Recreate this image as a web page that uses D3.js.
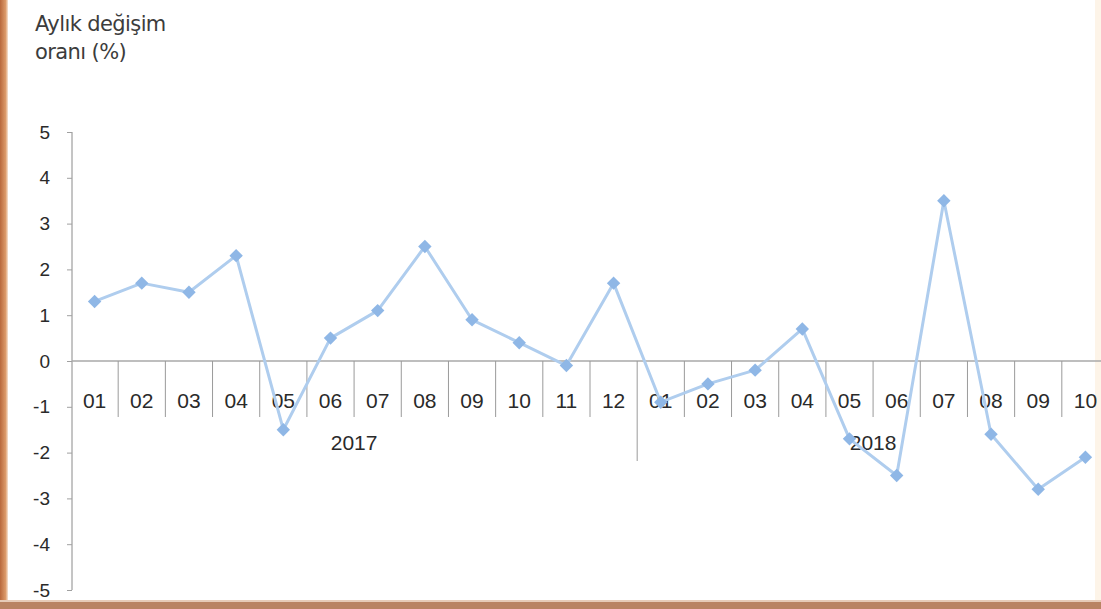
<!DOCTYPE html>
<html>
<head>
<meta charset="utf-8">
<script src="https://cdn.jsdelivr.net/npm/d3@7"></script>
<style>
  body { margin: 0; background: #fff; overflow: hidden; }
  svg { display: block; }
</style>
</head>
<body>
<script>
var years = ["2017", "2018"];
var months2017 = ["01", "02", "03", "04", "05", "06", "07", "08", "09", "10", "11", "12"];
var months2018 = ["01", "02", "03", "04", "05", "06", "07", "08", "09", "10"];
var values2017 = [1.3, 1.7, 1.5, 2.3, -1.5, 0.5, 1.1, 2.5, 0.9, 0.4, -0.1, 1.7];
var values2018 = [-0.9, -0.5, -0.2, 0.7, -1.7, -2.5, 3.5, -1.6, -2.8, -2.1];
var yTicks = [5, 4, 3, 2, 1, 0, -1, -2, -3, -4, -5];

var main = function() {
  var width = 1101, height = 609;

  // flatten the two years into one category list
  var data = [];
  months2017.forEach(function(m, i) { data.push({year: years[0], month: m, value: values2017[i]}); });
  months2018.forEach(function(m, i) { data.push({year: years[1], month: m, value: values2018[i]}); });
  data.forEach(function(d) { d.key = d.year + "-" + d.month; });

  var svg = d3.select("body")
    .append("svg")
    .attr("width", width)
    .attr("height", height);

  // photo frame: orange strip left, brown strip bottom, faint cream right
  var gl = svg.append("defs").append("linearGradient").attr("id", "lg");
  gl.append("stop").attr("offset", "0%").attr("stop-color", "#b8683c");
  gl.append("stop").attr("offset", "70%").attr("stop-color", "#dc9a6a");
  gl.append("stop").attr("offset", "100%").attr("stop-color", "#f7e4d4");
  svg.append("rect").attr("x", 0).attr("y", 0).attr("width", 8).attr("height", height).attr("fill", "url(#lg)");
  svg.append("rect").attr("x", width - 6).attr("y", 0).attr("width", 6).attr("height", height).attr("fill", "#fdf4e8");
  svg.append("rect").attr("x", 0).attr("y", 602).attr("width", width).attr("height", 7).attr("fill", "#b98363");
  svg.append("rect").attr("x", 0).attr("y", 600).attr("width", width).attr("height", 2).attr("fill", "#e6cbb8");

  var x = d3.scaleBand()
    .domain(data.map(function(d) { return d.key; }))
    .range([71, 1109])
    .padding(0);

  var y = d3.scaleLinear()
    .domain([-5, 5])
    .range([590, 132]);

  var y0 = y(0);
  var font = "Arial, 'Liberation Sans', sans-serif";

  // y axis
  var yAxis = svg.append("g")
    .attr("transform", "translate(72,0)")
    .call(d3.axisLeft(y).tickValues(yTicks).tickSize(5).tickPadding(17)
      .tickFormat(function(d) { return String(d); }));
  yAxis.select(".domain").attr("stroke", "#8a8a8a").attr("d", "M0," + y(5) + "V" + y(-5));
  yAxis.selectAll(".tick line").attr("stroke", "#a0a0a0");
  yAxis.selectAll(".tick text")
    .attr("fill", "#2a2a2a")
    .style("font-family", font)
    .style("font-size", "19px");

  // zero line
  svg.append("line")
    .attr("x1", 72).attr("x2", width)
    .attr("y1", y0).attr("y2", y0)
    .attr("stroke", "#a8a8a8").attr("stroke-width", 1.5);

  // category separators
  svg.append("g").selectAll("line")
    .data(data.slice(1))
    .enter()
    .append("line")
    .attr("x1", function(d) { return x(d.key); })
    .attr("x2", function(d) { return x(d.key); })
    .attr("y1", y0)
    .attr("y2", function(d, i) { return i === months2017.length - 1 ? y0 + 100 : y0 + 56; })
    .attr("stroke", "#9a9a9a")
    .attr("stroke-width", 1);

  // month labels
  svg.append("g").selectAll("text")
    .data(data)
    .enter()
    .append("text")
    .attr("x", function(d) { return x(d.key) + x.bandwidth() / 2; })
    .attr("y", y0 + 47)
    .attr("text-anchor", "middle")
    .attr("fill", "#2a2a2a")
    .style("font-family", font)
    .style("font-size", "21px")
    .text(function(d) { return d.month; });

  // year labels
  svg.append("g").selectAll("text")
    .data(years)
    .enter()
    .append("text")
    .attr("x", function(yr) {
      var ks = data.filter(function(d) { return d.year === yr; });
      return (x(ks[0].key) + x(ks[ks.length - 1].key) + x.bandwidth()) / 2;
    })
    .attr("y", y0 + 89)
    .attr("text-anchor", "middle")
    .attr("fill", "#2a2a2a")
    .style("font-family", font)
    .style("font-size", "21px")
    .text(function(yr) { return yr; });

  // line
  var line = d3.line()
    .x(function(d) { return x(d.key) + x.bandwidth() / 2; })
    .y(function(d) { return y(d.value); });

  svg.append("path")
    .datum(data)
    .attr("fill", "none")
    .attr("stroke", "#afcdee")
    .attr("stroke-width", 3)
    .attr("stroke-linejoin", "round")
    .attr("d", line);

  // diamond markers
  svg.append("g").selectAll("path")
    .data(data)
    .enter()
    .append("path")
    .attr("d", d3.symbol().type(d3.symbolSquare).size(90))
    .attr("transform", function(d) {
      return "translate(" + (x(d.key) + x.bandwidth() / 2) + "," + y(d.value) + ") rotate(45)";
    })
    .attr("fill", "#8fb7e6");

  // title
  var title = svg.append("text")
    .attr("x", 35)
    .attr("fill", "#3c3c3c")
    .style("font-family", "'DejaVu Sans', sans-serif")
    .style("font-size", "21px")
    .style("letter-spacing", "-0.6px");
  title.append("tspan").attr("x", 35).attr("y", 31).text("Aylık değişim");
  title.append("tspan").attr("x", 35).attr("y", 59).text("oranı (%)");
}

main();
</script>
</body>
</html>
